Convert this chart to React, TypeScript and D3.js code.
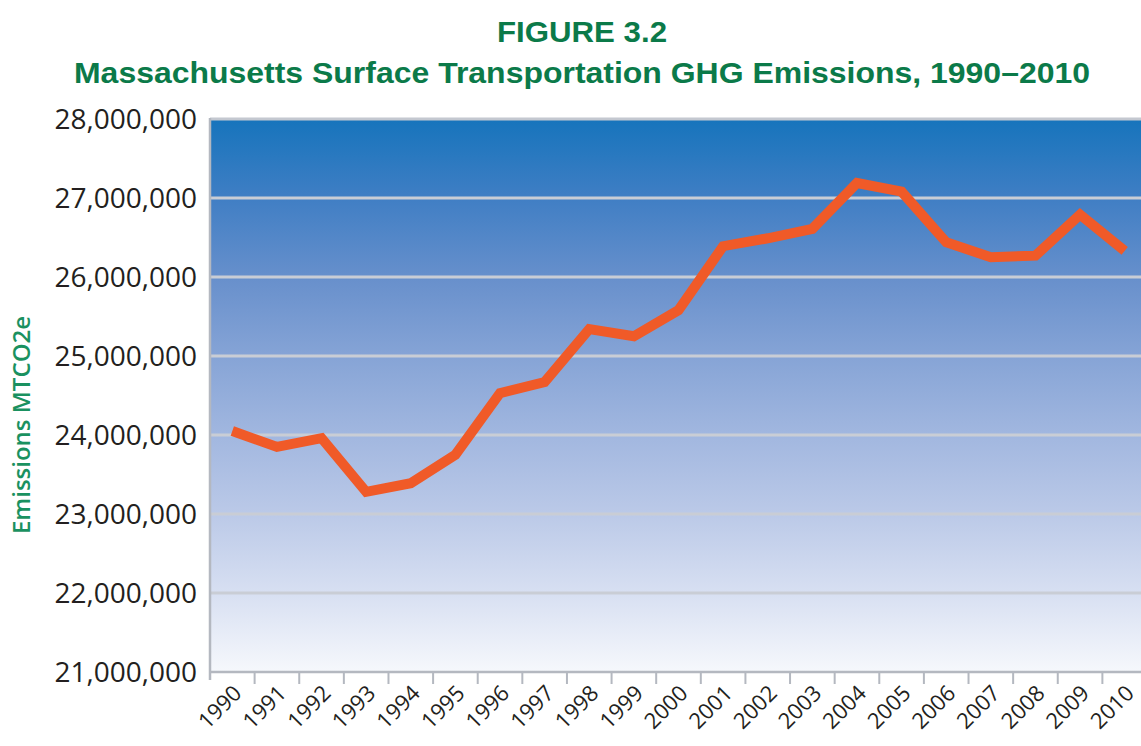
import React from "react";
import * as d3 from "d3";

// Massachusetts surface transportation GHG emissions (MTCO2e)
const years = [
  "1990", "1991", "1992", "1993", "1994", "1995", "1996", "1997", "1998", "1999", "2000",
  "2001", "2002", "2003", "2004", "2005", "2006", "2007", "2008", "2009", "2010",
];
const emissions = [
  24.05e6, 23.85e6, 23.96e6, 23.28e6, 23.39e6, 23.75e6, 24.53e6, 24.67e6, 25.34e6, 25.25e6,
  25.58e6, 26.39e6, 26.49e6, 26.61e6, 27.19e6, 27.08e6, 26.44e6, 26.25e6, 26.27e6, 26.79e6,
  26.33e6,
];
const yTicks = [21e6, 22e6, 23e6, 24e6, 25e6, 26e6, 27e6, 28e6];

const width = 1141;
const height = 746;
const left = 210;
const top = 119;
const bottom = 672;
const right = 1147;

const green = "#0B7A49";

const App = () => {
  const x = d3.scaleBand().domain(years).range([left, right]);
  const y = d3.scaleLinear().domain([21e6, 28e6]).range([bottom, top]);
  const cx = (yr) => (x(yr) as number) + x.bandwidth() / 2;

  const line = d3
    .line<number>()
    .x((_, i) => cx(years[i]))
    .y((d) => y(d));

  const fmt = d3.format(",");

  return (
    <svg
      width={width}
      height={height}
      style={{ position: "absolute", left: 0, top: 0, background: "#fff" }}
    >
      <defs>
        <linearGradient id="bg" x1="0" y1="0" x2="0" y2="1">
          <stop offset="0" stopColor="#1674BC" />
          <stop offset="0.14" stopColor="#3F7EC4" />
          <stop offset="0.29" stopColor="#6890CC" />
          <stop offset="0.43" stopColor="#86A4D6" />
          <stop offset="0.58" stopColor="#A3B8E0" />
          <stop offset="0.72" stopColor="#BCCAE8" />
          <stop offset="0.86" stopColor="#D8E0F2" />
          <stop offset="1" stopColor="#F6F8FC" />
        </linearGradient>
      </defs>

      <text
        x={582}
        y={42}
        textAnchor="middle"
        fontFamily="Liberation Sans, Arial, sans-serif"
        fontWeight="bold"
        fontSize={30}
        textLength={170}
        lengthAdjust="spacingAndGlyphs"
        fill={green}
      >
        FIGURE 3.2
      </text>
      <text
        x={582}
        y={83}
        textAnchor="middle"
        fontFamily="Liberation Sans, Arial, sans-serif"
        fontWeight="bold"
        fontSize={30}
        textLength={1016}
        lengthAdjust="spacingAndGlyphs"
        fill={green}
      >
        Massachusetts Surface Transportation GHG Emissions, 1990–2010
      </text>

      <rect x={left} y={top} width={right - left} height={bottom - top} fill="url(#bg)" />
      <line x1={left} x2={right} y1={top} y2={top} stroke="#C4C8D0" strokeWidth={3} />

      {yTicks.slice(1, -1).map((t) => (
        <line
          key={t}
          x1={left}
          x2={right}
          y1={y(t)}
          y2={y(t)}
          stroke="#C9CDD5"
          strokeWidth={3}
        />
      ))}

      {/* axes */}
      <line x1={left} x2={left} y1={top - 1} y2={bottom + 8} stroke="#B4B8C0" strokeWidth={2.5} />
      <line x1={left} x2={right} y1={bottom} y2={bottom} stroke="#B4B8C0" strokeWidth={2.5} />
      {years.slice(1).map((yr) => (
        <line
          key={yr}
          x1={x(yr)}
          x2={x(yr)}
          y1={bottom}
          y2={bottom + 12}
          stroke="#B4B8C0"
          strokeWidth={2}
        />
      ))}

      {yTicks.map((t) => (
        <text
          key={t}
          x={197}
          y={y(t)}
          dy="0.35em"
          textAnchor="end"
          fontFamily="Open Sans, sans-serif"
          fontSize={28}
          fill="#231F20"
        >
          {fmt(t)}
        </text>
      ))}

      {years.map((yr) => (
        <text
          key={yr}
          transform={`translate(${cx(yr) - 1},${bottom + 11}) rotate(-45)`}
          textAnchor="end"
          dy="0.75em"
          fontFamily="Open Sans, sans-serif"
          fontSize={22}
          fill="#231F20"
        >
          {yr}
        </text>
      ))}

      <text
        transform={`translate(30,${425}) rotate(-90)`}
        textAnchor="middle"
        fontFamily="Open Sans, sans-serif"
        fontWeight={600}
        fontSize={24}
        fill="#1A9160"
      >
        Emissions MTCO2e
      </text>

      <path
        d={line(emissions) ?? ""}
        fill="none"
        stroke="#F05A28"
        strokeWidth={10}
        strokeLinejoin="miter"
      />
    </svg>
  );
};

export default App;
